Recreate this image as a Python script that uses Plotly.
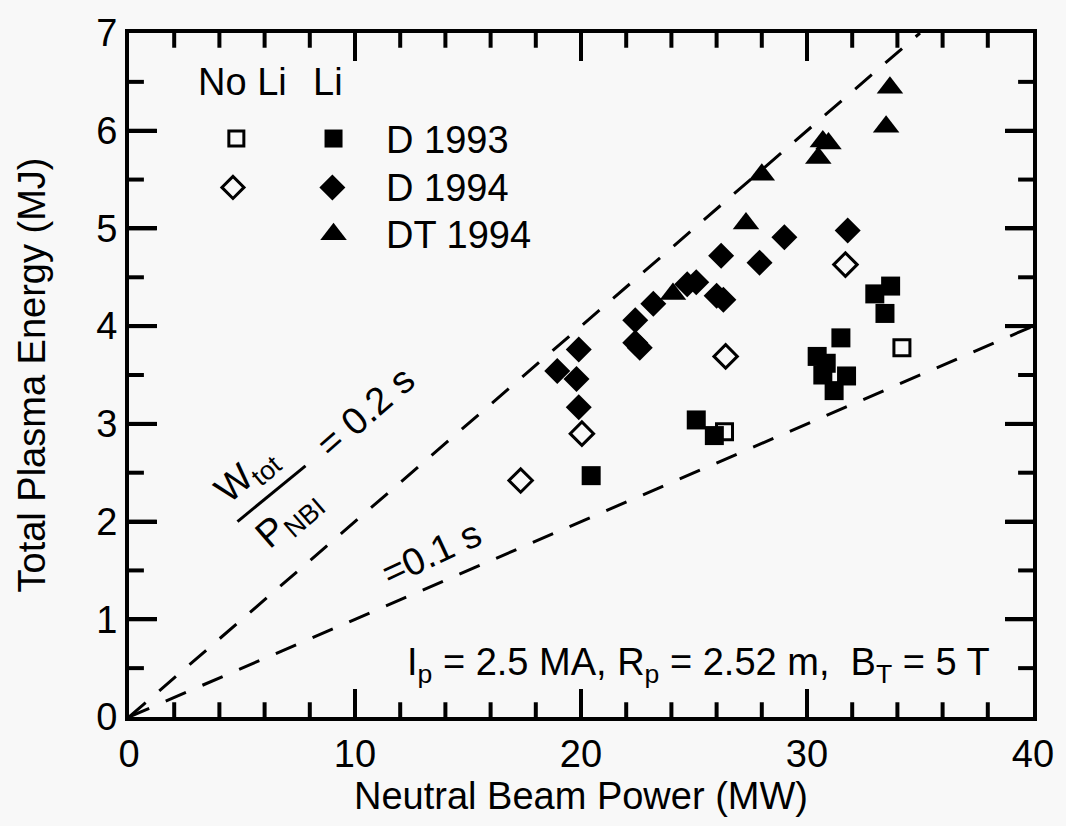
import numpy as np
import plotly.graph_objects as go

# ---- data (MW, MJ) ----
d93_li_x = [20.45, 25.1, 25.9, 30.45, 30.85, 30.7, 31.75, 31.2, 31.5, 33.0, 33.7, 33.45]
d93_li_y = [2.47, 3.04, 2.88, 3.69, 3.62, 3.50, 3.49, 3.34, 3.88, 4.33, 4.41, 4.13]
d93_noli_x = [26.35, 34.2]
d93_noli_y = [2.92, 3.78]
d94_li_x = [18.95, 19.9, 19.8, 19.9, 22.4, 22.4, 22.6, 23.2, 24.7, 25.1, 26.0, 26.3, 26.2, 27.9, 29.0, 31.8]
d94_li_y = [3.54, 3.76, 3.46, 3.17, 4.06, 3.83, 3.78, 4.23, 4.43, 4.45, 4.31, 4.27, 4.72, 4.65, 4.91, 4.98]
d94_noli_x = [17.33, 20.04, 26.4, 31.7]
d94_noli_y = [2.42, 2.90, 3.69, 4.63]
dt94_x = [24.07, 27.3, 28.0, 30.5, 30.7, 30.95, 33.5, 33.67]
dt94_y = [4.33, 5.05, 5.55, 5.72, 5.89, 5.87, 6.04, 6.44]

conf_times = [0.2, 0.1]          # W/P lines (s)
x_range = [0, 40]
y_range = [0, 7]
x_major, x_minor = 10, 2
y_major, y_minor = 1, 0.5

FONT = "Liberation Sans, Arial, sans-serif"
BLACK = "#000000"
BG = "#f8f8f8"
FS = 38

W, H = 1066, 826
ML, MR, MT, MB = 129, 27, 21, 109
PW, PH = W - ML - MR, H - MT - MB
MAJ_LEN, MIN_LEN = 28, 15

fig = go.Figure()

# inward tick marks on all four sides (axis decoration) as one line trace
xspan = x_range[1] - x_range[0]
yspan = y_range[1] - y_range[0]
def is_major(v, step):
    return abs(v / step - round(v / step)) < 1e-6

tx, ty = [], []
for v in np.arange(x_range[0] + x_minor, x_range[1] - 1e-9, x_minor):
    v = float(v)
    d = (MAJ_LEN if is_major(v, x_major) else MIN_LEN) / PH * yspan
    tx += [v, v, None, v, v, None]
    ty += [y_range[0], y_range[0] + d, None, y_range[1] - d, y_range[1], None]
for v in np.arange(y_range[0] + y_minor, y_range[1] - 1e-9, y_minor):
    v = float(v)
    d = (MAJ_LEN if is_major(v, y_major) else MIN_LEN) / PW * xspan
    tx += [x_range[0], x_range[0] + d, None, x_range[1] - d, x_range[1], None]
    ty += [v, v, None, v, v, None]
fig.add_trace(go.Scatter(x=tx, y=ty, mode="lines", line=dict(color=BLACK, width=4),
                         connectgaps=False, showlegend=False, hoverinfo="skip"))

# reference lines W = tau * P
for tau in conf_times:
    xe = min(x_range[1], y_range[1] / tau)
    fig.add_trace(go.Scatter(x=[0, xe], y=[0, tau * xe], mode="lines",
                             line=dict(color=BLACK, width=3, dash="22px,18px"),
                             showlegend=False, hoverinfo="skip"))

def pts(x, y, symbol, size, lw=0):
    fig.add_trace(go.Scatter(x=x, y=y, mode="markers", showlegend=False,
                             marker=dict(symbol=symbol, size=size, color=BLACK,
                                         line=dict(color=BLACK, width=lw))))

pts(d93_li_x, d93_li_y, "square", 19)
pts(d93_noli_x, d93_noli_y, "square-open", 16, 3)
pts(d94_li_x, d94_li_y, "diamond", 20)
pts(d94_noli_x, d94_noli_y, "diamond-open", 18, 3)
pts(dt94_x, dt94_y, "triangle-up", 23)

# legend (manual, two columns)
pts([4.75], [5.92], "square-open", 15, 3)
pts([9.05], [5.92], "square", 18)
pts([4.6], [5.42], "diamond-open", 17, 3)
pts([9.0], [5.42], "diamond", 20)
pts([9.05], [4.94], "triangle-up", 23)

ann = []
def txt(x, y, s, size=FS, angle=0, xanchor="center"):
    ann.append(dict(x=x, y=y, xref="x", yref="y", text=s, showarrow=False,
                    font=dict(family=FONT, size=size, color=BLACK),
                    textangle=angle, xanchor=xanchor, yanchor="middle"))

txt(5.0, 6.5, "No Li")
txt(8.8, 6.5, "Li")
txt(11.3, 5.9, "D 1993", xanchor="left")
txt(11.3, 5.41, "D 1994", xanchor="left")
txt(11.3, 4.93, "DT 1994", xanchor="left")

txt(25.2, 0.53, "I<sub>p</sub> = 2.5 MA, R<sub>p</sub> = 2.52 m,  B<sub>T</sub> = 5 T")
txt(13.4, 1.68, "=0.1 s", angle=-25)
txt(10.45, 3.12, "= 0.2 s", angle=-41)
txt(5.2, 2.47, "W<sub>tot</sub>", angle=-41)
txt(7.1, 2.03, "P<sub>NBI</sub>", angle=-41)

# fraction bar
shapes = [dict(type="line", x0=4.80, y0=2.0, x1=7.81, y1=2.57, xref="x", yref="y",
               line=dict(color=BLACK, width=3))]

axis_common = dict(showline=True, linecolor=BLACK, linewidth=4, mirror="ticks",
                   ticks="inside", ticklen=MAJ_LEN, tickwidth=4, tickcolor=BLACK,
                   showgrid=False, zeroline=False,
                   tickfont=dict(family=FONT, size=FS, color=BLACK))

fig.update_layout(
    width=W, height=H,
    margin=dict(l=ML, r=MR, t=MT, b=MB),
    paper_bgcolor=BG, plot_bgcolor=BG,
    annotations=ann, shapes=shapes,
    xaxis=dict(range=x_range, dtick=x_major, tick0=0,
               title=dict(text="Neutral Beam Power (MW)", standoff=10,
                          font=dict(family=FONT, size=FS, color=BLACK)),
               **axis_common),
    yaxis=dict(range=y_range, dtick=y_major, tick0=0,
               title=dict(text="Total Plasma Energy (MJ)", standoff=40,
                          font=dict(family=FONT, size=FS, color=BLACK)),
               **axis_common),
)

fig.write_html("out.html")
